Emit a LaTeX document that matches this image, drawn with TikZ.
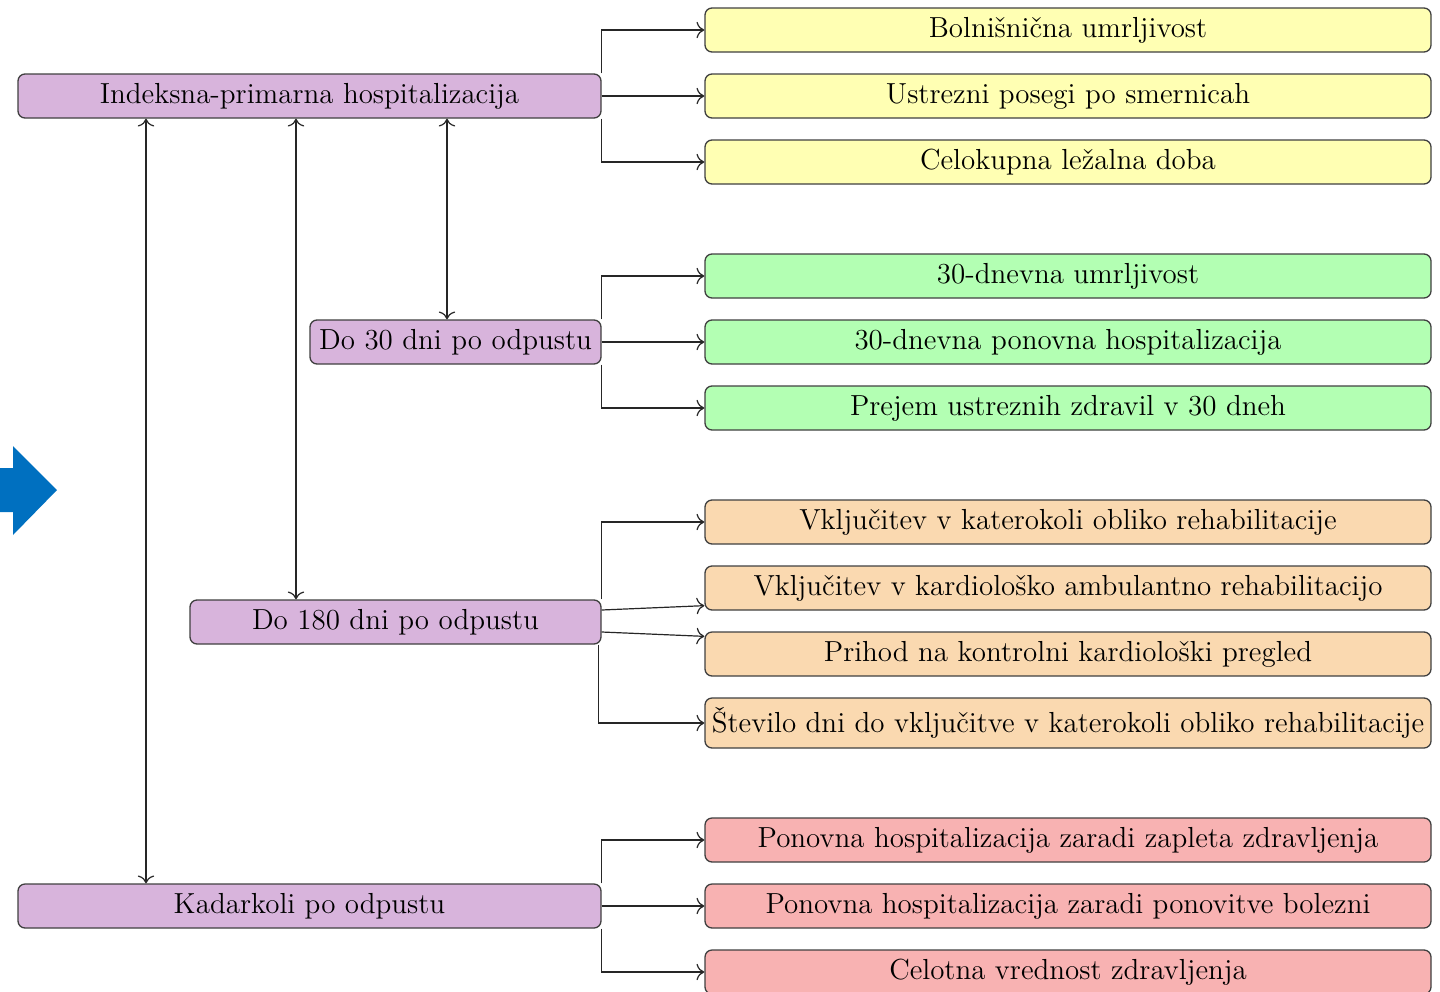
\documentclass[tikz,border=0pt]{standalone}
\usepackage{fontspec}
\usetikzlibrary{calc,arrows.meta}
\definecolor{boxpurple}{RGB}{216,180,220}
\definecolor{boxyellow}{RGB}{255,255,179}
\definecolor{boxgreen}{RGB}{179,255,179}
\definecolor{boxorange}{RGB}{250,217,176}
\definecolor{boxred}{RGB}{248,178,178}
\definecolor{arrowblue}{RGB}{0,112,192}
\begin{document}
\begin{tikzpicture}[x=0.5pt,y=-0.5pt,
  box/.style={draw=black!75, line width=0.65pt, rounded corners=3.5pt, inner sep=0pt,
              minimum height=22pt, font=\fontsize{14.5}{17}\selectfont, text=black},
  phase/.style={box, fill=boxpurple},
  outcome/.style={box, minimum width=363pt},
  tip/.style={To[scale=1.35]},
  link/.style={-{To[scale=1.35]}, line width=0.6pt, black!85},
  both/.style={{To[scale=1.35]}-{To[scale=1.35]}, line width=0.6pt, black!85}]
\useasboundingbox (0,0) rectangle (1440,991);

% blue marker arrow on the left edge
\fill[arrowblue] (0,468) -- (13,468) -- (13,446) -- (57,490) -- (13,535)
  -- (13,512) -- (0,512) -- cycle;

% time windows
\node[phase, minimum width=291.5pt] (ind) at (309.5,96)  {Indeksna-primarna hospitalizacija};
\node[phase, minimum width=145.5pt] (d30) at (455.5,342) {Do 30 dni po odpustu};
\node[phase, minimum width=205.5pt] (d180) at (395.5,622) {Do 180 dni po odpustu};
\node[phase, minimum width=291.5pt] (kad) at (309.5,906) {Kadarkoli po odpustu};

% outcomes of the index hospitalisation
\node[outcome, fill=boxyellow] (y1) at (1068,30)  {Bolnišnična umrljivost};
\node[outcome, fill=boxyellow] (y2) at (1068,96)  {Ustrezni posegi po smernicah};
\node[outcome, fill=boxyellow] (y3) at (1068,162) {Celokupna ležalna doba};

% 30-day outcomes
\node[outcome, fill=boxgreen] (g1) at (1068,276) {30-dnevna umrljivost};
\node[outcome, fill=boxgreen] (g2) at (1068,342) {30-dnevna ponovna hospitalizacija};
\node[outcome, fill=boxgreen] (g3) at (1068,408) {Prejem ustreznih zdravil v 30 dneh};

% 180-day outcomes
\node[outcome, fill=boxorange] (o1) at (1068,522) {Vključitev v katerokoli obliko rehabilitacije};
\node[outcome, fill=boxorange] (o2) at (1068,588) {Vključitev v kardiološko ambulantno rehabilitacijo};
\node[outcome, fill=boxorange] (o3) at (1068,654) {Prihod na kontrolni kardiološki pregled};
\node[outcome, fill=boxorange, minimum height=25pt] (o4) at (1068,723) {Število dni do vključitve v katerokoli obliko rehabilitacije};

% long-term outcomes
\node[outcome, fill=boxred] (r1) at (1068,840) {Ponovna hospitalizacija zaradi zapleta zdravljenja};
\node[outcome, fill=boxred] (r2) at (1068,906) {Ponovna hospitalizacija zaradi ponovitve bolezni};
\node[outcome, fill=boxred] (r3) at (1068,972) {Celotna vrednost zdravljenja};

% links between the index stay and the follow-up windows
\coordinate (c1) at (146,500);
\coordinate (c2) at (296,500);
\coordinate (c3) at (447,500);
\draw[both] (c1 |- ind.south) -- (c1 |- kad.north);
\draw[both] (c2 |- ind.south) -- (c2 |- d180.north);
\draw[both] (c3 |- ind.south) -- (c3 |- d30.north);

% window -> outcome connectors
\draw[link] (ind.north east) |- (y1.west);
\draw[link] (ind.east) -- (y2.west);
\draw[link] (ind.south east) |- (y3.west);

\draw[link] (d30.north east) |- (g1.west);
\draw[link] (d30.east) -- (g2.west);
\draw[link] (d30.south east) |- (g3.west);

\draw[link] (d180.north east) |- (o1.west);
\draw[link] ($(d180.east)+(0,-12)$) -- ($(o2.south west)+(0,-5)$);
\draw[link] ($(d180.east)+(0,10)$) -- ($(o3.north west)+(0,5)$);
\draw[link] ($(d180.south east)+(-3,0)$) |- (o4.west);

\draw[link] (kad.north east) |- (r1.west);
\draw[link] (kad.east) -- (r2.west);
\draw[link] (kad.south east) |- (r3.west);
\end{tikzpicture}
\end{document}
